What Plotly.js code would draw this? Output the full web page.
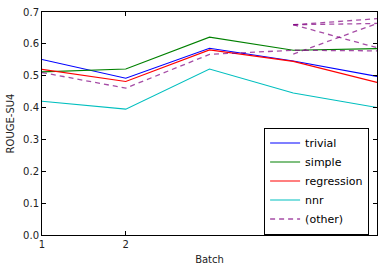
<!DOCTYPE html>
<html>
<head>
<meta charset="utf-8">
<script src="https://cdn.plot.ly/plotly-3.0.1.min.js"></script>
<style>html,body{margin:0;padding:0;background:#fff;}#chart{width:384px;height:271px;}</style>
</head>
<body>
<div id="chart"></div>
<script>
const batches = [1, 2, 3, 4, 5];
const trivial = [0.551, 0.492, 0.586, 0.546, 0.498];
const simple = [0.512, 0.521, 0.621, 0.580, 0.585];
const regression = [0.520, 0.482, 0.581, 0.545, 0.479];
const nnr = [0.420, 0.395, 0.521, 0.446, 0.400];
// "(other)" dashed segments, null separates pieces
const otherX = [1, 2, 3, 4, 5, null, 4, 5, null, 4, 5, null, 4, 5, null, 4, 5];
const otherY = [0.510, 0.461, 0.567, 0.580, 0.578, null, 0.660, 0.679, null, 0.660, 0.664, null, 0.660, 0.588, null, 0.568, 0.664];
const xTickVals = [1, 2];
const xTickText = ['1', '2'];

const font = {family: 'DejaVu Sans', size: 10, color: '#222'};
const traces = [
  {x: batches, y: trivial, name: 'trivial', mode: 'lines', line: {color: '#0000ff', width: 1.1}},
  {x: batches, y: simple, name: 'simple', mode: 'lines', line: {color: '#008000', width: 1.1}},
  {x: batches, y: regression, name: 'regression', mode: 'lines', line: {color: '#ff0000', width: 1.1}},
  {x: batches, y: nnr, name: 'nnr', mode: 'lines', line: {color: '#00bfbf', width: 1.1}},
  {x: otherX, y: otherY, name: '(other)', mode: 'lines', connectgaps: false,
   line: {color: 'rgba(128,0,128,0.7)', width: 1.3, dash: '5px,4px'}}
];
const layout = {
  width: 384, height: 271,
  margin: {l: 42, r: 7, t: 12, b: 36},
  paper_bgcolor: '#fff', plot_bgcolor: '#fff',
  font: font,
  showlegend: true,
  legend: {x: 0.663, y: 0.482, xanchor: 'left', yanchor: 'top',
           bgcolor: '#fff', bordercolor: '#000', borderwidth: 1,
           font: {family: 'DejaVu Sans', size: 11, color: '#000'},
           tracegroupgap: 0, itemwidth: 30},
  xaxis: {range: [1, 5], tickvals: xTickVals, ticktext: xTickText,
          showgrid: false, zeroline: false, showline: true, linecolor: '#000', linewidth: 1,
          mirror: 'ticks', ticks: 'inside', ticklen: 4, tickcolor: '#000',
          title: {text: 'Batch', font: {family: 'DejaVu Sans', size: 10, color: '#222'}, standoff: 6}},
  yaxis: {range: [0, 0.7], dtick: 0.1, tickformat: '.1f',
          showgrid: false, zeroline: false, showline: true, linecolor: '#000', linewidth: 1,
          mirror: 'ticks', ticks: 'inside', ticklen: 4, tickcolor: '#000',
          title: {text: 'ROUGE-SU4', font: {family: 'DejaVu Sans', size: 10, color: '#222'}, standoff: 6}}
};
Plotly.newPlot('chart', traces, layout, {displayModeBar: false, staticPlot: true});
</script>
</body>
</html>
